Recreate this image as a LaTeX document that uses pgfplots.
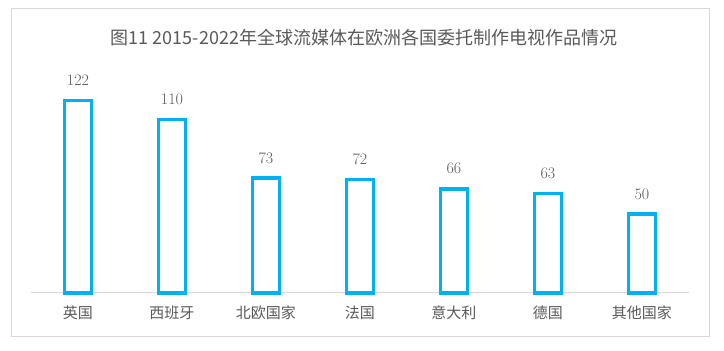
\documentclass[border=0pt]{standalone}
\usepackage{fontspec}
\usepackage{pgfplots}
\pgfplotsset{compat=1.18}
\newfontfamily\cjk{Noto Sans CJK SC}
\definecolor{txtgray}{HTML}{595959}
\definecolor{linegray}{HTML}{D9D9D9}
\definecolor{barblue}{HTML}{00B0F0}
\begin{document}
\begin{tikzpicture}[x=1pt,y=1pt]
\useasboundingbox (0,0) rectangle (724,351);
\draw[linegray, line width=1pt] (11,14) rectangle (709,342);
\node[text=txtgray, font=\cjk\fontsize{18}{21}\selectfont] at (364,313) {图11 2015-2022年全球流媒体在欧洲各国委托制作电视作品情况};
\begin{axis}[
  at={(31pt,58pt)}, anchor=south west,
  scale only axis, width=658pt, height=221pt,
  xmin=-0.5, xmax=6.5, ymin=0, ymax=140,
  axis x line*=bottom, axis y line=none,
  x axis line style={linegray, line width=1pt},
  xtick=data,
  xticklabels={英国,西班牙,北欧国家,法国,意大利,德国,其他国家},
  major tick length=0pt,
  xticklabel style={anchor=center, yshift=-20pt, text=txtgray, font=\cjk\fontsize{15}{18}\selectfont},
  ybar, bar width=27pt, bar shift=0pt,
  /pgf/number format/assume math mode=true,
  nodes near coords={\fontsize{16}{19}\selectfont\pgfmathprintnumber{\pgfplotspointmeta}},
  every node near coord/.append style={anchor=center, yshift=20pt, text=txtgray},
  clip=false,
]
\addplot[draw=barblue, fill=white, line width=3.5pt] coordinates {
(0,122) (1,110) (2,73) (3,72) (4,66) (5,63) (6,50)};
\end{axis}
\end{tikzpicture}
\end{document}
